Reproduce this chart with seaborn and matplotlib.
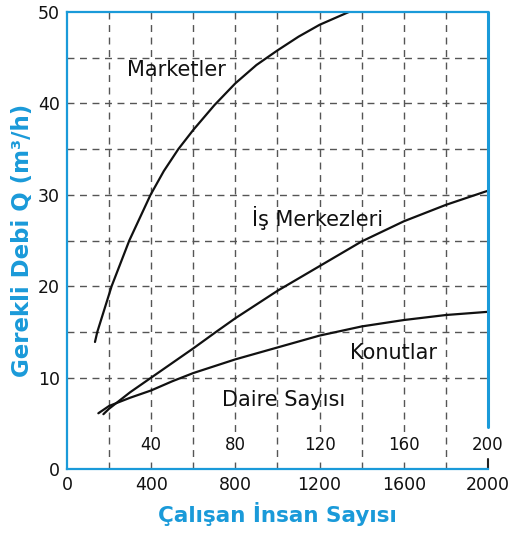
import matplotlib
matplotlib.use("Agg")
import matplotlib.pyplot as plt
import seaborn as sns
import pandas as pd

# Data
market_x = [133, 144, 212, 296, 397, 460, 529, 600, 700, 800, 900, 1000, 1100, 1200, 1349]
market_y = [13.9, 15.0, 20.0, 25.0, 30.0, 32.6, 35.0, 37.1, 39.8, 42.2, 44.2, 45.8, 47.3, 48.6, 50.1]

is_x = [173, 200, 300, 400, 500, 600, 708, 800, 1000, 1200, 1400, 1600, 1800, 2000]
is_y = [6.0, 6.6, 8.4, 10.0, 11.6, 13.2, 15.0, 16.5, 19.5, 22.2, 24.9, 27.1, 28.9, 30.45]

kon_x = [149, 200, 300, 400, 500, 600, 800, 1000, 1200, 1400, 1600, 1800, 2000]
kon_y = [6.1, 6.9, 7.8, 8.6, 9.6, 10.5, 12.0, 13.3, 14.6, 15.6, 16.3, 16.85, 17.2]

x_ticks = [0, 400, 800, 1200, 1600, 2000]
y_ticks = [0, 10, 20, 30, 40, 50]
daire_pos = [400, 800, 1200, 1600, 2000]
daire_labels = ["40", "80", "120", "160", "200"]

labels = {"Marketler": (520, 43.7), "İş Merkezleri": (1190, 27.5),
          "Konutlar": (1550, 12.7), "Daire Sayısı": (1030, 7.6)}

BLUE = "#1a9ad9"
GRID = "#555555"

sns.set_theme(style="white")
plt.rcParams["font.family"] = ["DejaVu Sans"]

fig = plt.figure(figsize=(5.09, 5.33), dpi=100)
ax = fig.add_axes([0.1316, 0.120, 0.8271, 0.8575])

df = pd.concat([
    pd.DataFrame({"x": market_x, "y": market_y, "s": "Marketler"}),
    pd.DataFrame({"x": is_x, "y": is_y, "s": "İş Merkezleri"}),
    pd.DataFrame({"x": kon_x, "y": kon_y, "s": "Konutlar"}),
])
for name, g in df.groupby("s", sort=False):
    sns.lineplot(data=g, x="x", y="y", ax=ax, color="#111111", lw=1.6,
                 legend=False, sort=False, estimator=None)

ax.set_xlim(0, 2000)
ax.set_ylim(0, 50)

# grid
for gx in range(200, 2000, 200):
    ax.axvline(gx, color=GRID, lw=1.0, ls=(0, (5, 4)), zorder=0)
for gy in range(10, 50, 5):
    ax.axhline(gy, color=GRID, lw=1.0, ls=(0, (5, 4)), zorder=0)

ax.set_xticks(x_ticks)
ax.set_yticks(y_ticks)
ax.tick_params(axis="both", labelsize=12.5, colors="#111111", length=0, pad=5)

for s in ["left", "bottom", "top"]:
    ax.spines[s].set_color(BLUE)
    ax.spines[s].set_linewidth(1.6)
ax.spines["right"].set_visible(False)
ax.axvline(2000, ymin=4.6 / 50, ymax=1, color=BLUE, lw=2.2, clip_on=False)
ax.axvline(2000, ymin=0, ymax=1.1 / 50, color="#222222", lw=1.5, clip_on=False)

for p, t in zip(daire_pos, daire_labels):
    ax.text(p, 2.6, t, ha="center", va="center", fontsize=12, color="#111111",
            bbox=dict(facecolor="white", edgecolor="none", pad=2.5))

for t, (px, py) in labels.items():
    ax.text(px, py, t, ha="center", va="center", fontsize=15, color="#111111")

ax.set_xlabel("Çalışan İnsan Sayısı", color=BLUE, fontsize=15.5, fontweight="bold", labelpad=6)
ax.set_ylabel("Gerekli Debi Q (m³/h)", color=BLUE, fontsize=16.5, fontweight="bold", labelpad=3)

fig.savefig("out.png", dpi=100)
